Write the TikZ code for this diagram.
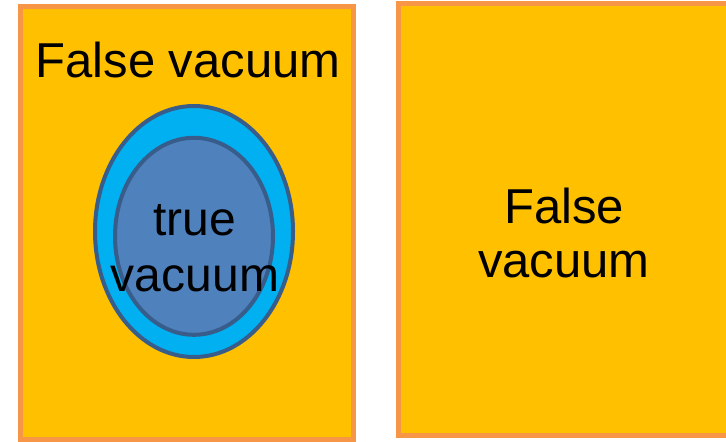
\documentclass[tikz,border=0pt]{standalone}
\usepackage{fontspec}
\setmainfont{Liberation Sans}
\definecolor{vacfill}{HTML}{FFC000}
\definecolor{vacline}{HTML}{F79646}
\definecolor{wallfill}{HTML}{00B0F0}
\definecolor{truefill}{HTML}{4F81BD}
\definecolor{ringline}{HTML}{385D8A}
\begin{document}
\begin{tikzpicture}[x=1pt,y=-1pt,
  region/.style={fill=vacfill,draw=vacline,line width=5pt},
  bubble/.style={draw=ringline,line width=4pt},
  label/.style={anchor=base,inner sep=0pt,font=\fontsize{49}{58}\selectfont}]
\useasboundingbox (0,0) rectangle (726,442);
% left panel: bubble of true vacuum inside the false vacuum
\draw[region] (20.5,6.5) rectangle (353.5,439);
\node[label] (leftTitle) at (188,77) {False vacuum};
\draw[bubble,fill=wallfill] (194,231.5) ellipse [x radius=99,y radius=125.5];
\draw[bubble,fill=truefill] (194,236.3) ellipse [x radius=79,y radius=98.5];
\node[label,font=\fontsize{48}{57}\selectfont] (trueA) at (195,235) {true};
\node[label,font=\fontsize{48}{57}\selectfont] (trueB) at (195,291.5) {vacuum};
% right panel: false vacuum only
\draw[region] (398,3.5) rectangle (740,435.5);
\node[label] (rightA) at (564,223) {False};
\node[label] (rightB) at (564,277) {vacuum};
\end{tikzpicture}
\end{document}
